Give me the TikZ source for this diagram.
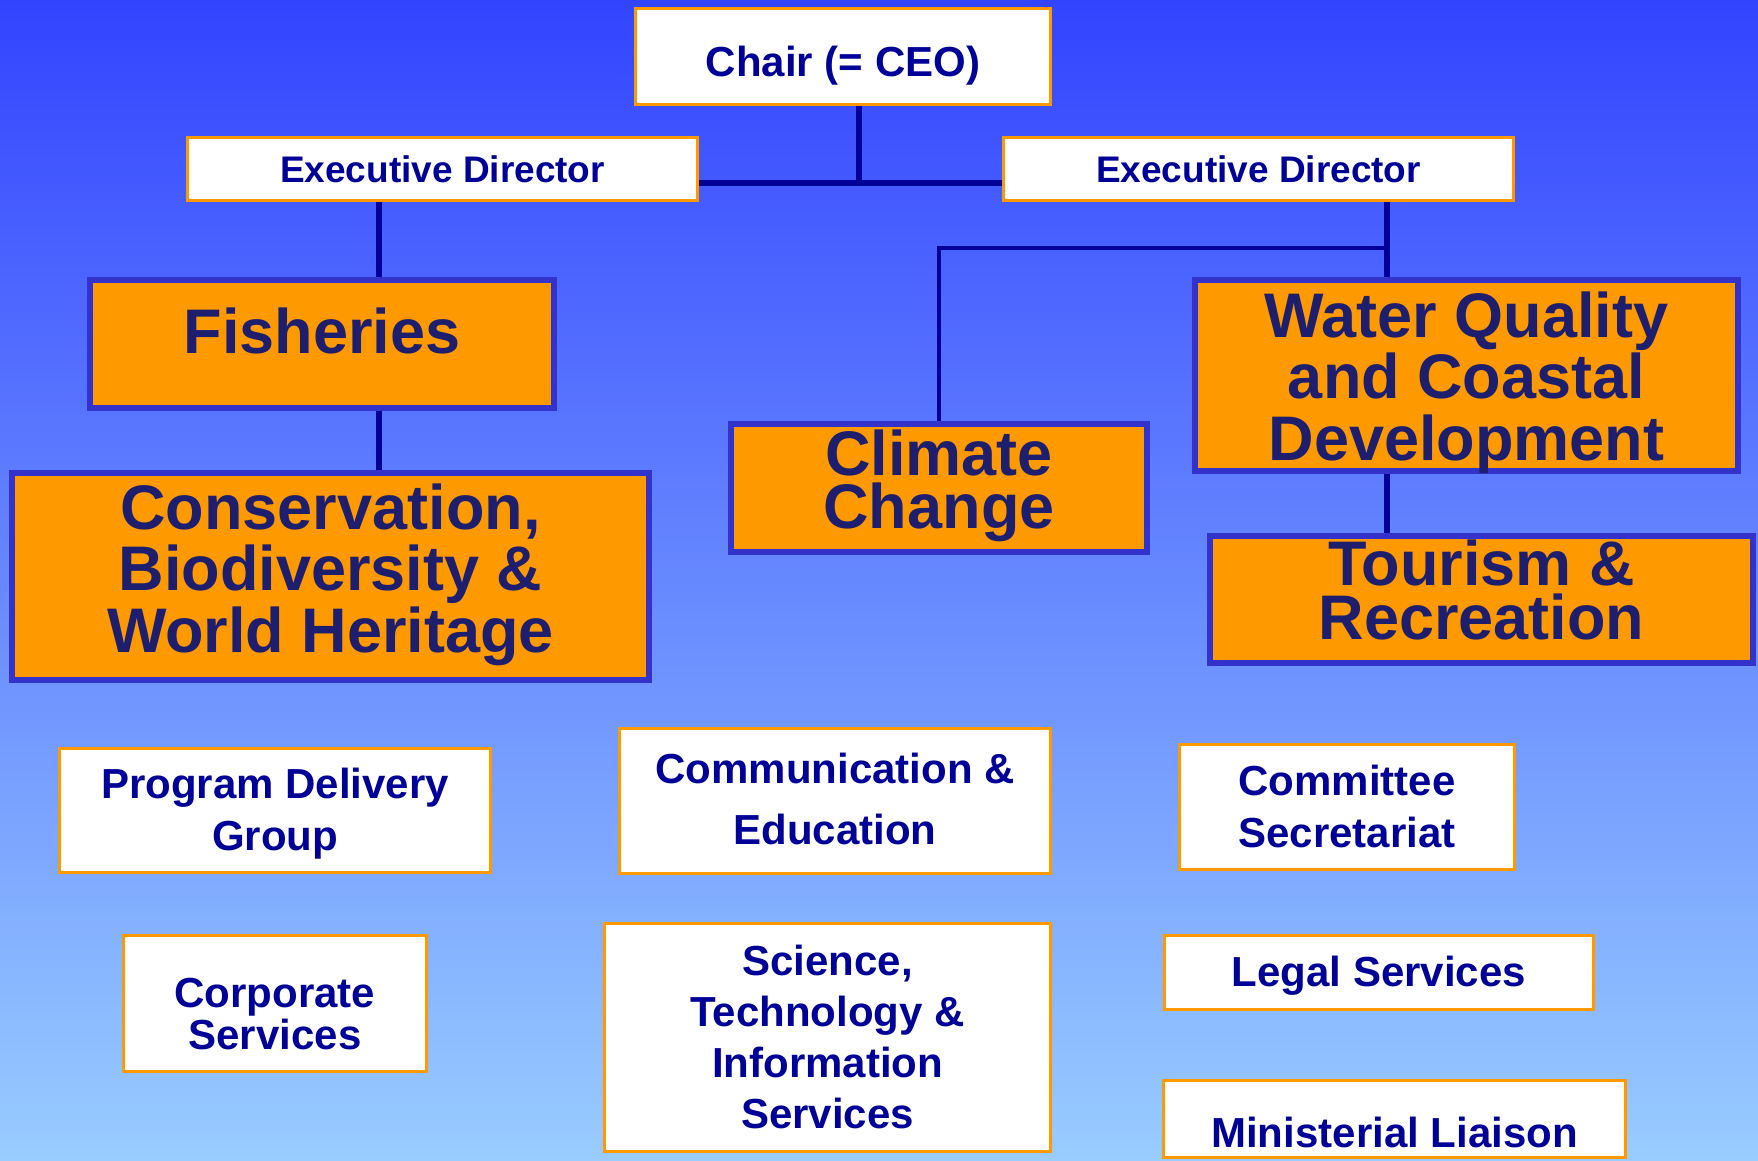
\documentclass[tikz,border=0pt]{standalone}
\usepackage{fontspec}
\setmainfont{Liberation Sans}
\definecolor{bgtop}{HTML}{3344FF}
\definecolor{bgbottom}{HTML}{99CCFF}
\definecolor{boxorange}{HTML}{FF9900}
\definecolor{boxblue}{HTML}{3333CC}
\definecolor{darknavy}{HTML}{000099}
\definecolor{ink}{HTML}{1E1E6E}

\begin{document}
\begin{tikzpicture}[x=1pt,y=-1pt,
whitebox/.style={draw=boxorange,fill=white,line width=3pt,inner sep=0pt,align=center,text=darknavy},
orangebox/.style={draw=boxblue,fill=boxorange,line width=6pt,inner sep=0pt,align=center,text=ink},
txt/.style 2 args={font=\bfseries\fontsize{#1}{#2}\selectfont},
conn/.style={draw=darknavy,line width=6pt},
thinconn/.style={draw=darknavy,line width=3.5pt}]
\useasboundingbox (0,0) rectangle (1758,1160);
\fill[top color=bgtop,bottom color=bgbottom] (0,0) rectangle (1758,1160);

% top of the chart
\node (chair) [whitebox,txt={42}{50},minimum width=415,minimum height=96,
    text height=39,text depth=0] at (843,56.5) {Chair (= CEO)};
\node (edL) [whitebox,txt={37}{44},minimum width=510,minimum height=63,
    text height=26,text depth=0] at (442.5,169) {Executive Director};
\node (edR) [whitebox,txt={37}{44},minimum width=510,minimum height=63,
    text height=26,text depth=0] at (1258.5,169) {Executive Director};

% programs
\node (fish) [orangebox,txt={63}{61},minimum width=464,minimum height=128,
    text height=18,text depth=0] at (322,344) {Fisheries};
\node (cons) [orangebox,txt={63}{61.5},minimum width=637,minimum height=207,
    text height=151,text depth=0] at (330.5,576.5) {Conservation,\\Biodiversity \&\\World Heritage};
\node (cc) [orangebox,txt={63}{53},minimum width=416,minimum height=128,
    text height=80,text depth=0] at (939,488) {Climate\\Change};
\node (wq) [orangebox,txt={63}{61.5},minimum width=543,minimum height=191,
    text height=169,text depth=0] at (1466.5,375.5) {Water Quality\\and Coastal\\Development};
\node (tour) [orangebox,txt={63}{53.5},minimum width=543,minimum height=127,
    text height=79,text depth=0] at (1481.5,599.5) {Tourism \&\\Recreation};

% support groups
\node (pdg) [whitebox,txt={42}{52},minimum width=431,minimum height=124,
    text height=79,text depth=0] at (275,810.5) {Program Delivery\\Group};
\node (comm) [whitebox,txt={42}{61},minimum width=431,minimum height=145,
    text height=86,text depth=0] at (835,801) {Communication \&\\Education};
\node (cs) [whitebox,txt={42}{52},minimum width=335,minimum height=125,
    text height=80,text depth=0] at (1347,807) {Committee\\Secretariat};
\node (corp) [whitebox,txt={42}{42},minimum width=303,minimum height=136,
    text height=91,text depth=0] at (275,1003.5) {Corporate\\Services};
\node (sci) [whitebox,txt={42}{51},minimum width=446,minimum height=228,
    text height=181,text depth=0] at (827.5,1037.5) {Science,\\Technology \&\\Information\\Services};
\node (legal) [whitebox,txt={42}{50},minimum width=429,minimum height=74,
    text height=27,text depth=0] at (1379,972.5) {Legal Services};
\node (min) [whitebox,txt={42}{50},minimum width=462,minimum height=77,
    text height=56,text depth=0] at (1394.5,1119) {Ministerial Liaison};

% connectors
\coordinate (hub) at (859,183);
\coordinate (lspine) at (379,0);
\coordinate (rspine) at (1387,0);
\coordinate (ccjoin) at (1387,248);
\draw[conn] (chair.south -| hub) -- (hub);
\draw[conn] (edL.east |- hub) -- (edR.west |- hub);
\draw[conn] (edL.south -| lspine) -- (fish.north -| lspine);
\draw[conn] (fish.south -| lspine) -- (cons.north -| lspine);
\draw[conn] (edR.south -| rspine) -- (wq.north -| rspine);
\draw[conn] (wq.south -| rspine) -- (tour.north -| rspine);
\draw[thinconn] (ccjoin) -| (cc.north);
\end{tikzpicture}
\end{document}
